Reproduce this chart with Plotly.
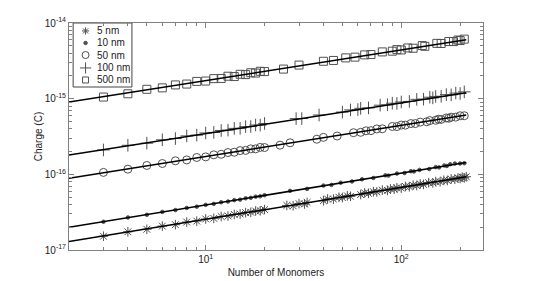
import plotly.graph_objects as go

# ---------------- data ----------------
N_5nm = [3, 4, 5, 6, 7, 8, 9, 10, 11, 12, 13, 14, 15, 16, 17, 18, 19, 20,
         26, 28, 30, 32, 33, 40, 42, 45, 48, 50, 53, 55, 62, 65, 68, 72, 75,
         80, 85, 88, 92, 95, 100, 105, 110, 115, 120, 125, 130, 138, 145, 150,
         158, 165, 172, 180, 188, 195, 200, 205, 210, 215]
Q_5nm = [1.52e-17, 1.74e-17, 1.88e-17, 2.07e-17, 2.16e-17, 2.34e-17, 2.41e-17,
         2.57e-17, 2.62e-17, 2.77e-17, 2.81e-17, 2.95e-17, 2.99e-17, 3.12e-17,
         3.15e-17, 3.28e-17, 3.30e-17, 3.42e-17, 3.88e-17, 3.84e-17, 4.10e-17,
         4.06e-17, 4.25e-17, 4.48e-17, 4.72e-17, 4.70e-17, 4.98e-17, 4.93e-17,
         5.20e-17, 5.12e-17, 5.40e-17, 5.68e-17, 5.60e-17, 5.90e-17, 5.85e-17,
         6.18e-17, 6.12e-17, 6.42e-17, 6.36e-17, 6.65e-17, 6.58e-17, 6.92e-17,
         6.85e-17, 7.18e-17, 7.10e-17, 7.45e-17, 7.36e-17, 7.76e-17, 7.70e-17,
         8.02e-17, 7.98e-17, 8.36e-17, 8.28e-17, 8.66e-17, 8.60e-17, 8.95e-17,
         8.82e-17, 9.15e-17, 9.00e-17, 9.30e-17]

N_10nm = [3, 4, 5, 6, 7, 8, 9, 10, 11, 12, 13, 14, 15, 16, 17, 18, 19, 20,
          27, 33, 40, 44, 49, 56, 63, 72, 83, 86, 95, 104, 112, 116, 124, 139,
          150, 156, 166, 171, 178, 188, 200, 210]
Q_10nm = [2.36e-17, 2.69e-17, 2.92e-17, 3.19e-17, 3.37e-17, 3.60e-17, 3.74e-17,
          3.95e-17, 4.07e-17, 4.28e-17, 4.37e-17, 4.56e-17, 4.63e-17, 4.82e-17,
          4.89e-17, 5.07e-17, 5.12e-17, 5.30e-17, 6.05e-17, 6.42e-17, 7.10e-17,
          7.25e-17, 7.75e-17, 8.05e-17, 8.60e-17, 8.95e-17, 9.70e-17, 9.62e-17,
          10.25e-17, 10.40e-17, 11.0e-17, 10.9e-17, 11.45e-17, 11.75e-17,
          12.45e-17, 12.35e-17, 13.1e-17, 12.9e-17, 13.6e-17, 13.9e-17,
          13.9e-17, 14.0e-17]

N_50nm = [3, 4, 5, 6, 7, 8, 9, 10, 11, 12, 13, 14, 15, 16, 17, 18, 19, 20,
          24, 27, 37, 40, 47, 57, 62, 66, 70, 75, 80, 90, 95, 100, 105, 112,
          118, 125, 135, 140, 150, 155, 160, 170, 175, 180, 190, 200, 210]
Q_50nm = [10.6e-17, 11.7e-17, 13.1e-17, 13.9e-17, 15.1e-17, 15.5e-17, 16.7e-17,
          17.0e-17, 18.1e-17, 18.4e-17, 19.4e-17, 19.6e-17, 20.6e-17, 20.7e-17,
          21.7e-17, 21.7e-17, 22.7e-17, 22.6e-17, 24.3e-17, 26.1e-17, 29.1e-17,
          30.8e-17, 32.1e-17, 35.5e-17, 35.9e-17, 37.6e-17, 37.8e-17, 39.8e-17,
          40.0e-17, 42.9e-17, 42.8e-17, 44.8e-17, 44.7e-17, 46.9e-17, 46.9e-17,
          49.0e-17, 49.5e-17, 51.3e-17, 51.8e-17, 53.5e-17, 53.2e-17, 55.6e-17,
          55.1e-17, 56.9e-17, 57.0e-17, 59.4e-17, 59.5e-17]

N_100nm = [3, 4, 5, 6, 7, 8, 9, 10, 11, 12, 13, 14, 15, 16, 17, 18, 19, 20,
           29, 31, 38, 50, 55, 60, 62, 68, 78, 85, 90, 95, 100, 110, 120, 130,
           140, 145, 150, 160, 170, 180, 190, 200, 210]
Q_100nm = [2.10e-16, 2.42e-16, 2.58e-16, 2.86e-16, 2.97e-16, 3.22e-16, 3.30e-16,
           3.52e-16, 3.58e-16, 3.80e-16, 3.84e-16, 4.05e-16, 4.06e-16, 4.27e-16,
           4.28e-16, 4.48e-16, 4.47e-16, 4.70e-16, 5.45e-16, 5.46e-16, 6.08e-16,
           6.65e-16, 7.10e-16, 7.18e-16, 7.45e-16, 7.55e-16, 8.20e-16, 8.30e-16,
           8.70e-16, 8.65e-16, 9.05e-16, 9.20e-16, 9.80e-16, 9.85e-16, 10.45e-16,
           10.25e-16, 10.70e-16, 10.75e-16, 11.30e-16, 11.25e-16, 11.85e-16,
           11.70e-16, 12.30e-16]

N_500nm = [3, 4, 5, 6, 7, 8, 9, 10, 11, 12, 13, 14, 15, 16, 17, 18, 19, 20,
           25, 30, 40, 45, 52, 58, 65, 70, 80, 90, 95, 100, 108, 115, 128, 132,
           152, 160, 175, 185, 195, 200, 210]
Q_500nm = [10.5e-16, 11.6e-16, 13.3e-16, 13.9e-16, 15.2e-16, 15.6e-16, 16.9e-16,
           17.1e-16, 18.4e-16, 18.5e-16, 19.8e-16, 19.6e-16, 21.0e-16, 20.8e-16,
           22.0e-16, 21.8e-16, 23.0e-16, 22.8e-16, 24.6e-16, 27.8e-16, 31.2e-16,
           32.0e-16, 34.6e-16, 35.4e-16, 37.9e-16, 38.3e-16, 41.5e-16, 42.4e-16,
           44.5e-16, 44.0e-16, 46.8e-16, 46.4e-16, 50.3e-16, 49.2e-16, 53.8e-16,
           53.6e-16, 57.0e-16, 56.8e-16, 59.5e-16, 58.6e-16, 61.2e-16]

# fitted power-law lines (end points)
fit_N = [2, 215]
fit_5nm = [1.29e-17, 9.3e-17]
fit_10nm = [2.0e-17, 1.43e-16]
fit_50nm = [8.9e-17, 6.1e-16]
fit_100nm = [1.80e-16, 1.20e-15]
fit_500nm = [9.0e-16, 6.0e-15]

labels = ["5 nm", "10 nm", "50 nm", "100 nm", "500 nm"]

x_tickvals = [10, 100]
x_ticktext = ["10<sup>1</sup>", "10<sup>2</sup>"]
x_minor = [3, 4, 5, 6, 7, 8, 9, 20, 30, 40, 50, 60, 70, 80, 90, 200]
y_tickvals = [1e-17, 1e-16, 1e-15, 1e-14]
y_ticktext = ["10<sup>-17</sup>", "10<sup>-16</sup>", "10<sup>-15</sup>", "10<sup>-14</sup>"]
y_minor = [k * 10.0 ** e for e in (-17, -16, -15) for k in range(2, 10)]

# ---------------- figure ----------------
MC = "#505050"
styles = [("asterisk-open", 8), ("circle", 3.5), ("circle-open", 8),
          ("cross-thin-open", 9), ("square-open", 8)]
leg_styles = [("asterisk-open", 6), ("circle", 3.5), ("circle-open", 7),
              ("cross-thin-open", 8), ("square-open", 6)]
data = [(N_5nm, Q_5nm), (N_10nm, Q_10nm), (N_50nm, Q_50nm),
        (N_100nm, Q_100nm), (N_500nm, Q_500nm)]
fits = [fit_5nm, fit_10nm, fit_50nm, fit_100nm, fit_500nm]

fig = go.Figure()
for (xs, ys), (sym, sz), lab in zip(data, styles, labels):
    fig.add_trace(go.Scatter(
        x=xs, y=ys, mode="markers", name=lab, showlegend=False,
        marker=dict(symbol=sym, size=sz, color=MC, line=dict(width=1, color=MC))))
for f in fits:
    fig.add_trace(go.Scatter(x=fit_N, y=f, mode="lines", showlegend=False,
                             line=dict(color="black", width=1.5)))

# custom compact legend (keys on an auxiliary 0..1 axis)
leg_x = 0.04
leg_y = [0.965, 0.912, 0.859, 0.802, 0.749]
for (sym, sz), yy in zip(leg_styles, leg_y):
    fig.add_trace(go.Scatter(
        x=[leg_x], y=[yy], xaxis="x2", yaxis="y2", mode="markers",
        showlegend=False, hoverinfo="skip",
        marker=dict(symbol=sym, size=sz, color=MC, line=dict(width=1, color=MC))))
for lab, yy in zip(labels, leg_y):
    fig.add_annotation(x=0.063, y=yy, xref="paper", yref="paper", text=lab,
                       showarrow=False, xanchor="left", yanchor="middle",
                       font=dict(size=10, color="#222"))
fig.add_shape(type="rect", xref="paper", yref="paper", x0=0.01, x1=0.152,
              y0=0.718, y1=1.0, line=dict(color="#444", width=1),
              fillcolor="white", layer="below")

AX = "#808080"
# the page body has an 8px margin, so the figure is 8px smaller each way
fig.update_layout(
    template="none",
    width=526, height=273,
    margin=dict(l=61, r=51, t=15, b=31, autoexpand=False),
    paper_bgcolor="white", plot_bgcolor="white",
    font=dict(family="Liberation Sans, Arial, sans-serif", size=10, color="#222"),
    xaxis=dict(type="log", range=[0.301, 2.418], showgrid=False, zeroline=False,
               automargin=False,
               showline=True, linecolor=AX, linewidth=1, mirror="ticks",
               ticks="inside", ticklen=5, tickcolor=AX,
               tickmode="array", tickvals=x_tickvals, ticktext=x_ticktext,
               minor=dict(ticks="inside", ticklen=3, tickcolor=AX,
                          tickmode="array", tickvals=x_minor),
               title=dict(text="Number of Monomers", standoff=4,
                          font=dict(size=10)),
               tickfont=dict(size=10)),
    yaxis=dict(type="log", range=[-17, -14], showgrid=False, zeroline=False,
               automargin=False,
               showline=True, linecolor=AX, linewidth=1, mirror="ticks",
               ticks="inside", ticklen=5, tickcolor=AX,
               tickmode="array", tickvals=y_tickvals, ticktext=y_ticktext,
               minor=dict(ticks="inside", ticklen=3, tickcolor=AX,
                          tickmode="array", tickvals=y_minor),
               title=dict(text="Charge (C)", standoff=0, font=dict(size=10)),
               tickfont=dict(size=10)),
    xaxis2=dict(overlaying="x", range=[0, 1], visible=False),
    yaxis2=dict(overlaying="y", range=[0, 1], visible=False),
)

fig.write_html("out.html")
